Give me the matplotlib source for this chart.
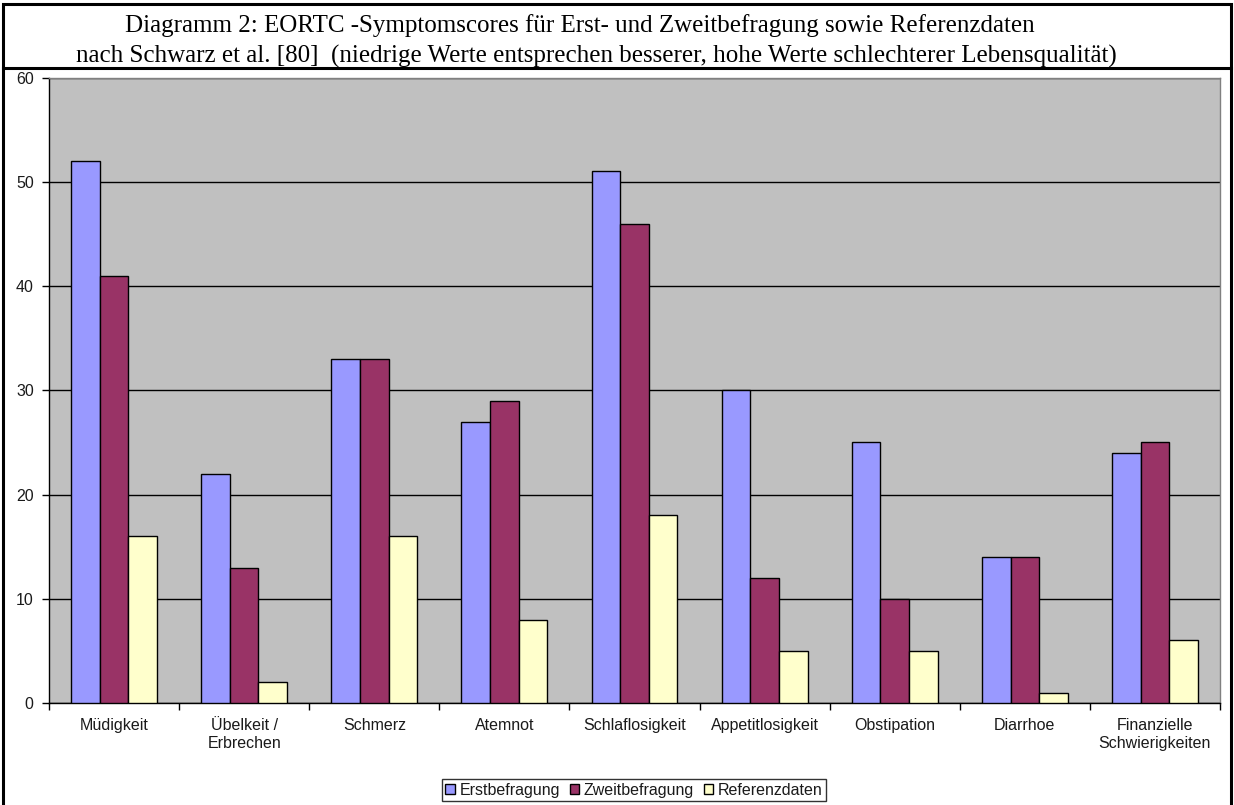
import matplotlib
matplotlib.use("Agg")
import matplotlib.pyplot as plt
import numpy as np
from matplotlib.patches import Rectangle

# Daten aus dem Diagramm
kategorien = ["Müdigkeit", "Übelkeit /\nErbrechen", "Schmerz", "Atemnot", "Schlaflosigkeit",
              "Appetitlosigkeit", "Obstipation", "Diarrhoe", "Finanzielle\nSchwierigkeiten"]
erstbefragung = [52, 22, 33, 27, 51, 30, 25, 14, 24]
zweitbefragung = [41, 13, 33, 29, 46, 12, 10, 14, 25]
referenzdaten = [16, 2, 16, 8, 18, 5, 5, 1, 6]
serien = ["Erstbefragung", "Zweitbefragung", "Referenzdaten"]
farben = ["#9999FF", "#993366", "#FFFFCC"]
y_ticks = [0, 10, 20, 30, 40, 50, 60]

W, H = 1234, 805
fig = plt.figure(figsize=(W / 100, H / 100), dpi=100)
fig.patch.set_facecolor("white")

# Plotbereich in Pixeln
links, rechts, oben, unten = 49, 1220, 77.7, 703
ax = fig.add_axes([links / W, 1 - unten / H, (rechts - links) / W, (unten - oben) / H])
ax.set_facecolor("#C0C0C0")

x = np.arange(len(kategorien))
breite = 0.22
for i, (werte, name, farbe) in enumerate(zip([erstbefragung, zweitbefragung, referenzdaten], serien, farben)):
    ax.bar(x + (i - 1) * breite, werte, breite, color=farbe, edgecolor="black",
           linewidth=1, label=name, zorder=3)

ax.set_xlim(-0.5, len(kategorien) - 0.5)
ax.set_ylim(0, 60)
ax.set_yticks(y_ticks)
ax.yaxis.grid(True, color="black", linewidth=1, zorder=1)
ax.set_axisbelow(True)

schrift = "Liberation Sans"
gr = 11.5

# Kategorie-Ticks an den Grenzen, Beschriftung mittig
ax.set_xticks(np.arange(len(kategorien) + 1) - 0.5)
ax.set_xticklabels([])
ax.set_xticks(x, minor=True)
ax.set_xticklabels(kategorien, minor=True, fontsize=gr, family=schrift, color="#1a1a1a",
                   linespacing=1.25)
ax.tick_params(axis="x", which="minor", length=0, pad=11)
ax.tick_params(axis="x", which="major", length=5, width=1, direction="out")
ax.tick_params(axis="y", length=5, width=1, direction="out", labelsize=gr, pad=6)
for lbl in ax.get_yticklabels():
    lbl.set_family(schrift)
    lbl.set_color("#1a1a1a")

for s in ["top", "right"]:
    ax.spines[s].set_color("#808080")
    ax.spines[s].set_linewidth(1)
for s in ["left", "bottom"]:
    ax.spines[s].set_color("black")
    ax.spines[s].set_linewidth(1)

# Legende
leg = fig.legend(loc="center", bbox_to_anchor=(634 / W, 1 - 790 / H), ncol=3, frameon=True,
                 fancybox=False, edgecolor="black", handlelength=0.6,
                 handleheight=0.6, handletextpad=0.3, columnspacing=0.6, borderpad=0.2,
                 prop={"family": schrift, "size": gr})
leg.get_frame().set_linewidth(1)
for t in leg.get_texts():
    t.set_color("#1a1a1a")

# Rahmen und Titel
fig.add_artist(Rectangle((3 / W, -0.01), (1231 - 3) / W, 1 - 4 / H + 0.01, transform=fig.transFigure,
                         fill=False, edgecolor="black", linewidth=2.2))
fig.add_artist(plt.Line2D([3 / W, 1231 / W], [1 - 68.5 / H, 1 - 68.5 / H], transform=fig.transFigure,
                          color="black", linewidth=2.2))
fig.text(580 / W, 1 - 32 / H, "Diagramm 2: EORTC -Symptomscores für Erst- und Zweitbefragung sowie Referenzdaten",
         ha="center", va="baseline", fontsize=18, family="Liberation Serif")
fig.text(596 / W, 1 - 63 / H, "nach Schwarz et al. [80]  (niedrige Werte entsprechen besserer, hohe Werte schlechterer Lebensqualität)",
         ha="center", va="baseline", fontsize=18, family="Liberation Serif")

fig.savefig("out.png", dpi=100)
